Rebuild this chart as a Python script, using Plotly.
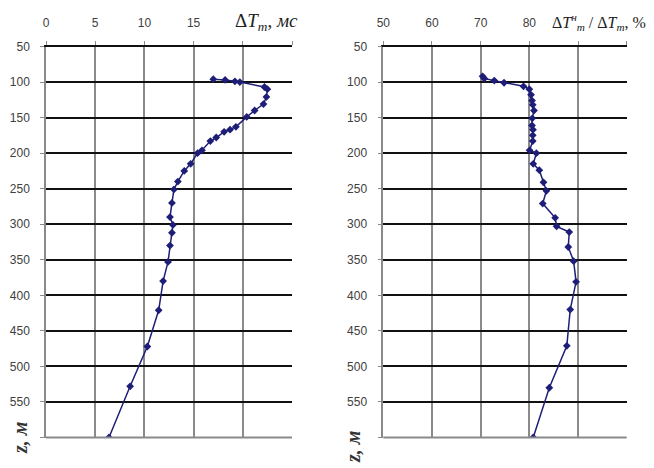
import plotly.graph_objects as go

# Left panel: delta T_m (ms) vs depth z (m)
z_left = [96, 97, 99, 100, 107, 110, 121, 131, 140, 149, 163, 167, 170, 178, 183,
          196, 200, 215, 225, 240, 251, 270, 290, 301, 312, 330, 353, 380, 421, 472, 528, 600]
dt_left = [17.0, 18.2, 19.2, 19.7, 22.2, 22.5, 22.4, 22.1, 21.2, 20.4, 19.3, 18.7, 18.1, 17.3, 16.7,
           15.85, 15.4, 14.7, 14.05, 13.4, 13.0, 12.8, 12.6, 12.9, 12.8, 12.6, 12.4, 11.9, 11.45, 10.3, 8.55, 6.4]

# Right panel: ratio (%) vs depth z (m)
z_right = [92, 95, 98, 101, 106, 110, 118, 126, 132, 140, 151, 161, 167, 175, 183,
           196, 200, 215, 224, 241, 253, 271, 291, 303, 311, 332, 352, 381, 420, 471, 530, 600]
ratio_right = [70.4, 70.75, 72.8, 74.8, 78.8, 80.0, 80.35, 80.55, 80.7, 80.95, 80.6, 80.55, 80.75, 80.7, 80.7,
               80.05, 81.45, 80.8, 82.05, 82.9, 83.5, 82.75, 85.3, 85.6, 88.2, 88.0, 89.1, 89.6, 88.4, 87.7, 84.1, 80.8]

left_xticks = [0, 5, 10, 15, 20, 25]
left_xtext = ["0", "5", "10", "15", " ", " "]
right_xticks = [50, 60, 70, 80, 90, 100]
right_xtext = ["50", "60", "70", "80", " ", " "]
z_ticks = [50, 100, 150, 200, 250, 300, 350, 400, 450, 500, 550, 600]
z_text = ["50", "100", "150", "200", "250", "300", "350", "400", "450", "500", "550", " "]

navy = "#1e1e78"
fig = go.Figure()
fig.add_trace(go.Scatter(x=dt_left, y=z_left, mode="lines+markers", xaxis="x", yaxis="y",
                         line=dict(color=navy, width=1.5),
                         marker=dict(symbol="diamond", size=6, color=navy), showlegend=False))
fig.add_trace(go.Scatter(x=ratio_right, y=z_right, mode="lines+markers", xaxis="x2", yaxis="y2",
                         line=dict(color=navy, width=1.5),
                         marker=dict(symbol="diamond", size=6, color=navy), showlegend=False))

# page body has an 8px margin; figure sized to fit the window
OFF = 8
W, H = 654 - OFF, 468 - OFF

def px_x(p):
    return (p - OFF) / W

def px_y(p):
    return 1 - (p - OFF) / H

ydom = [px_y(437.5), px_y(46.5)]
tickfont = dict(family="Liberation Sans, Arial", size=12, color="#404040")

def xaxis(dom, rng, tv, tt, anchor):
    return dict(domain=dom, range=rng, tickvals=tv, ticktext=tt, side="top", anchor=anchor,
                showgrid=True, gridcolor="#8a8a8a", gridwidth=1.5, zeroline=False,
                showline=True, linecolor="#111111", linewidth=2,
                ticks="outside", ticklen=4, tickcolor="#8a8a8a", tickwidth=1,
                tickfont=tickfont, ticklabelstandoff=9, automargin=False, fixedrange=True)

def yaxis(anchor):
    return dict(domain=ydom, range=[600, 50], tickvals=z_ticks, ticktext=z_text, anchor=anchor,
                showgrid=True, gridcolor="#111111", gridwidth=2, zeroline=False,
                showline=True, linecolor="#8a8a8a", linewidth=1.5,
                ticks="outside", ticklen=4, tickcolor="#8a8a8a", tickwidth=1,
                tickfont=tickfont, ticklabelstandoff=8, automargin=False, fixedrange=True)

fig.update_layout(
    width=W, height=H, margin=dict(l=0, r=0, t=0, b=0, autoexpand=False),
    paper_bgcolor="white", plot_bgcolor="white",
    xaxis=xaxis([px_x(46), px_x(292)], [0, 25], left_xticks, left_xtext, "y"),
    yaxis=yaxis("x"),
    xaxis2=xaxis([px_x(383.3), px_x(626.7)], [50, 100], right_xticks, right_xtext, "y2"),
    yaxis2=yaxis("x2"),
)

# bottom border lines (gray)
for xr, yr in [("x domain", "y domain"), ("x2 domain", "y2 domain")]:
    fig.add_shape(type="line", xref=xr, yref=yr, x0=0, x1=1, y0=0, y1=0,
                  line=dict(color="#8a8a8a", width=2), layer="above")

serif = "Liberation Serif, Times New Roman"
fig.add_annotation(xref="paper", yref="paper", x=px_x(266), y=px_y(22), showarrow=False,
                   xanchor="center", yanchor="middle",
                   text="Δ<i>T<sub>m</sub></i>, <i>мс</i>",
                   font=dict(family=serif, size=19, color="#222222"))
fig.add_annotation(xref="paper", yref="paper", x=px_x(599), y=px_y(22), showarrow=False,
                   xanchor="center", yanchor="middle",
                   text="Δ<i>T<sup>н</sup><sub>m</sub></i> / Δ<i>T<sub>m</sub></i>, %",
                   font=dict(family=serif, size=16, color="#222222"))
for xp, yp in [(20, 438), (353, 446)]:
    fig.add_annotation(xref="paper", yref="paper", x=px_x(xp), y=px_y(yp), showarrow=False,
                       xanchor="center", yanchor="middle",
                       text="<b><i>z, м</i></b>", textangle=-90,
                       font=dict(family=serif, size=20, color="#333333"))

fig.write_html("out.html")
